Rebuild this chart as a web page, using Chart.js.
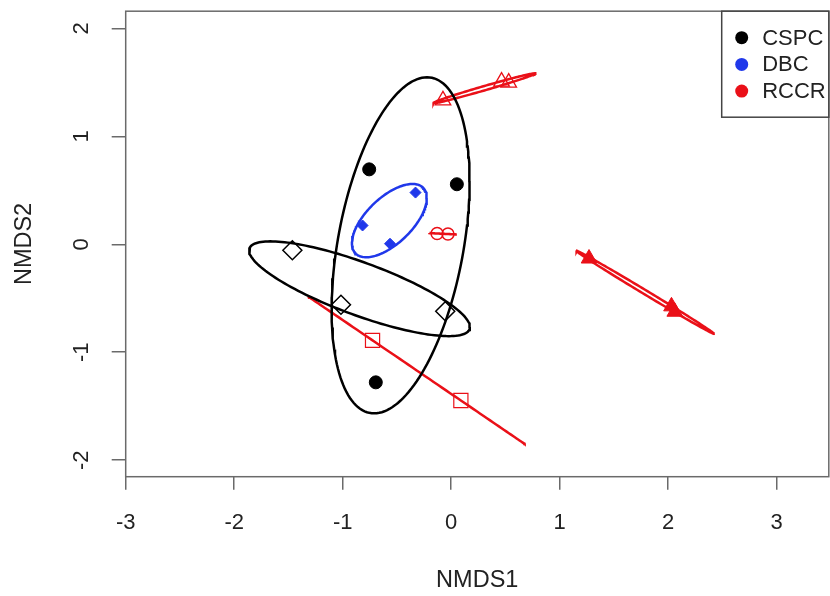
<!DOCTYPE html>
<html>
<head>
<meta charset="utf-8">
<script src="https://cdn.jsdelivr.net/npm/chart.js@4.4.1/dist/chart.umd.min.js"></script>
<style>
  html, body { margin: 0; padding: 0; background: #fff; overflow: hidden; }
  #wrap { width: 840px; height: 596px; }
</style>
</head>
<body>
<div id="wrap"><canvas id="chart" width="840" height="596"></canvas></div>
<script>
// NMDS site scores, one pair of arrays per group (colour = site, symbol = sampling set)
const cspcCircleX = [-0.756, 0.052, -0.695];
const cspcCircleY = [0.694, 0.556, -1.279];
const cspcDiamondX = [-1.464, -1.016, -0.055];
const cspcDiamondY = [-0.055, -0.560, -0.621];
const dbcDiamondX = [-0.329, -0.817, -0.564];
const dbcDiamondY = [0.479, 0.174, 0.005];
const rccrCircleX = [-0.13, -0.03];
const rccrCircleY = [0.10, 0.095];
const rccrTriangleX = [-0.076, 0.464, 0.53];
const rccrTriangleY = [1.333, 1.507, 1.497];
const rccrTriFilledX = [1.27, 2.03, 2.06];
const rccrTriFilledY = [-0.132, -0.575, -0.625];
const rccrSquareX = [-0.725, 0.089];
const rccrSquareY = [-0.890, -1.447];

const xTicks = [-3, -2, -1, 0, 1, 2, 3];
const yTicks = [-2, -1, 0, 1, 2];
const legendLabels = ['CSPC', 'DBC', 'RCCR'];

const BLACK = '#000000';
const BLUE = '#2038ea';
const RED = '#ea1018';
const AXIS = '#6a6a6a';
const TEXT = '#222222';
const FONT = '22px "Liberation Sans", Arial, sans-serif';
const TITLE_FONT = '23.5px "Liberation Sans", Arial, sans-serif';
const legendColors = [BLACK, BLUE, RED];

// sqrt(qchisq(0.95, 2)) -- 95% standard-error ellipses
const CHI95 = Math.sqrt(5.991465);

function toPoints(xs, ys) {
  return xs.map((x, i) => ({ x: x, y: ys[i] }));
}

function seEllipse(xs, ys, steps) {
  steps = steps || 160;
  const n = xs.length;
  const mx = xs.reduce((a, b) => a + b, 0) / n;
  const my = ys.reduce((a, b) => a + b, 0) / n;
  let sxx = 0, syy = 0, sxy = 0;
  for (let i = 0; i < n; i++) {
    const dx = xs[i] - mx, dy = ys[i] - my;
    sxx += dx * dx; syy += dy * dy; sxy += dx * dy;
  }
  // sample covariance, scaled to the covariance of the centroid
  sxx /= (n - 1) * n; syy /= (n - 1) * n; sxy /= (n - 1) * n;
  const a = Math.sqrt(sxx);
  const b = a > 0 ? sxy / a : 0;
  const c = Math.sqrt(Math.max(syy - b * b, 0));
  const pts = [];
  for (let i = 0; i <= steps; i++) {
    const t = 2 * Math.PI * i / steps;
    const u = Math.cos(t), v = Math.sin(t);
    pts.push({ x: mx + CHI95 * a * u, y: my + CHI95 * (b * u + c * v) });
  }
  return pts;
}

const groups = [
  { xs: cspcCircleX, ys: cspcCircleY, color: BLACK, style: 'circle', filled: true, r: 6.5, bw: 1 },
  { xs: cspcDiamondX, ys: cspcDiamondY, color: BLACK, style: 'rectRot', filled: false, r: 9.5, bw: 1.5 },
  { xs: dbcDiamondX, ys: dbcDiamondY, color: BLUE, style: 'rectRot', filled: true, r: 5.5, bw: 1 },
  { xs: rccrCircleX, ys: rccrCircleY, color: RED, style: 'circle', filled: false, r: 6, bw: 1.5 },
  { xs: rccrTriangleX, ys: rccrTriangleY, color: RED, style: 'triangle', filled: false, r: 9, bw: 1.3 },
  { xs: rccrTriFilledX, ys: rccrTriFilledY, color: RED, style: 'triangle', filled: true, r: 9, bw: 1 },
  { xs: rccrSquareX, ys: rccrSquareY, color: RED, style: 'rect', filled: false, r: 10, bw: 1.2 }
];

const datasets = [];
groups.forEach(g => {
  datasets.push({
    type: 'line',
    data: seEllipse(g.xs, g.ys),
    borderColor: g.color,
    borderWidth: 2.5,
    pointRadius: 0,
    fill: false,
    tension: 0
  });
  datasets.push({
    type: 'scatter',
    data: toPoints(g.xs, g.ys),
    pointStyle: g.style,
    pointRadius: g.r,
    pointBackgroundColor: g.filled ? g.color : 'rgba(0,0,0,0)',
    pointBorderColor: g.color,
    pointBorderWidth: g.bw
  });
});

// box, tick labels, axis titles and legend in base-graphics style
const framePlugin = {
  id: 'frame',
  afterDraw(chart) {
    const ctx = chart.ctx;
    const area = chart.chartArea;
    const xs = chart.scales.x, ys = chart.scales.y;
    ctx.save();
    ctx.strokeStyle = AXIS;
    ctx.lineWidth = 1.5;
    ctx.strokeRect(area.left, area.top, area.right - area.left, area.bottom - area.top);

    ctx.fillStyle = TEXT;
    ctx.font = FONT;
    ctx.textAlign = 'center';
    ctx.textBaseline = 'middle';
    xTicks.forEach(v => ctx.fillText(String(v), xs.getPixelForValue(v), 523));
    yTicks.forEach(v => {
      ctx.save();
      ctx.translate(81.5, ys.getPixelForValue(v));
      ctx.rotate(-Math.PI / 2);
      ctx.fillText(String(v), 0, 0);
      ctx.restore();
    });
    ctx.font = TITLE_FONT;
    ctx.fillText('NMDS1', (area.left + area.right) / 2, 581);
    ctx.save();
    ctx.translate(25, (area.top + area.bottom) / 2);
    ctx.rotate(-Math.PI / 2);
    ctx.fillText('NMDS2', 0, 0);
    ctx.restore();

    // legend, top right corner of the plot region
    ctx.font = FONT;
    const lx = 721.7, ly = area.top, lw = area.right - lx, lh = 106;
    ctx.fillStyle = '#fff';
    ctx.fillRect(lx, ly, lw, lh);
    ctx.strokeStyle = '#444';
    ctx.lineWidth = 1.5;
    ctx.strokeRect(lx, ly, lw, lh);
    ctx.textAlign = 'left';
    legendLabels.forEach((lab, i) => {
      const cy = ly + 26.5 + i * 26.7;
      ctx.beginPath();
      ctx.arc(lx + 20, cy, 6.5, 0, 2 * Math.PI);
      ctx.fillStyle = legendColors[i];
      ctx.fill();
      ctx.fillStyle = TEXT;
      ctx.fillText(lab, lx + 40.5, cy + 1);
    });
    ctx.restore();
  }
};

new Chart(document.getElementById('chart'), {
  data: { datasets: datasets },
  options: {
    responsive: false,
    animation: false,
    events: [],
    layout: { padding: { left: 0, top: 7, right: 6, bottom: 0 } },
    plugins: { legend: { display: false }, tooltip: { enabled: false } },
    scales: {
      x: {
        type: 'linear',
        position: 'bottom',
        min: -3,
        max: 3.48,
        afterBuildTicks: s => { s.ticks = xTicks.map(v => ({ value: v })); },
        afterFit: s => { s.height = 119.3; },
        ticks: { display: false },
        grid: { drawOnChartArea: false, drawTicks: true, tickLength: 13, color: AXIS, lineWidth: 1.5 },
        border: { display: false }
      },
      y: {
        type: 'linear',
        position: 'left',
        min: -2.153,
        max: 2.159,
        afterBuildTicks: s => { s.ticks = yTicks.map(v => ({ value: v })); },
        afterFit: s => { s.width = 125.7; },
        ticks: { display: false },
        grid: { drawOnChartArea: false, drawTicks: true, tickLength: 14, color: AXIS, lineWidth: 1.5 },
        border: { display: false }
      }
    }
  },
  plugins: [framePlugin]
});
</script>
</body>
</html>
